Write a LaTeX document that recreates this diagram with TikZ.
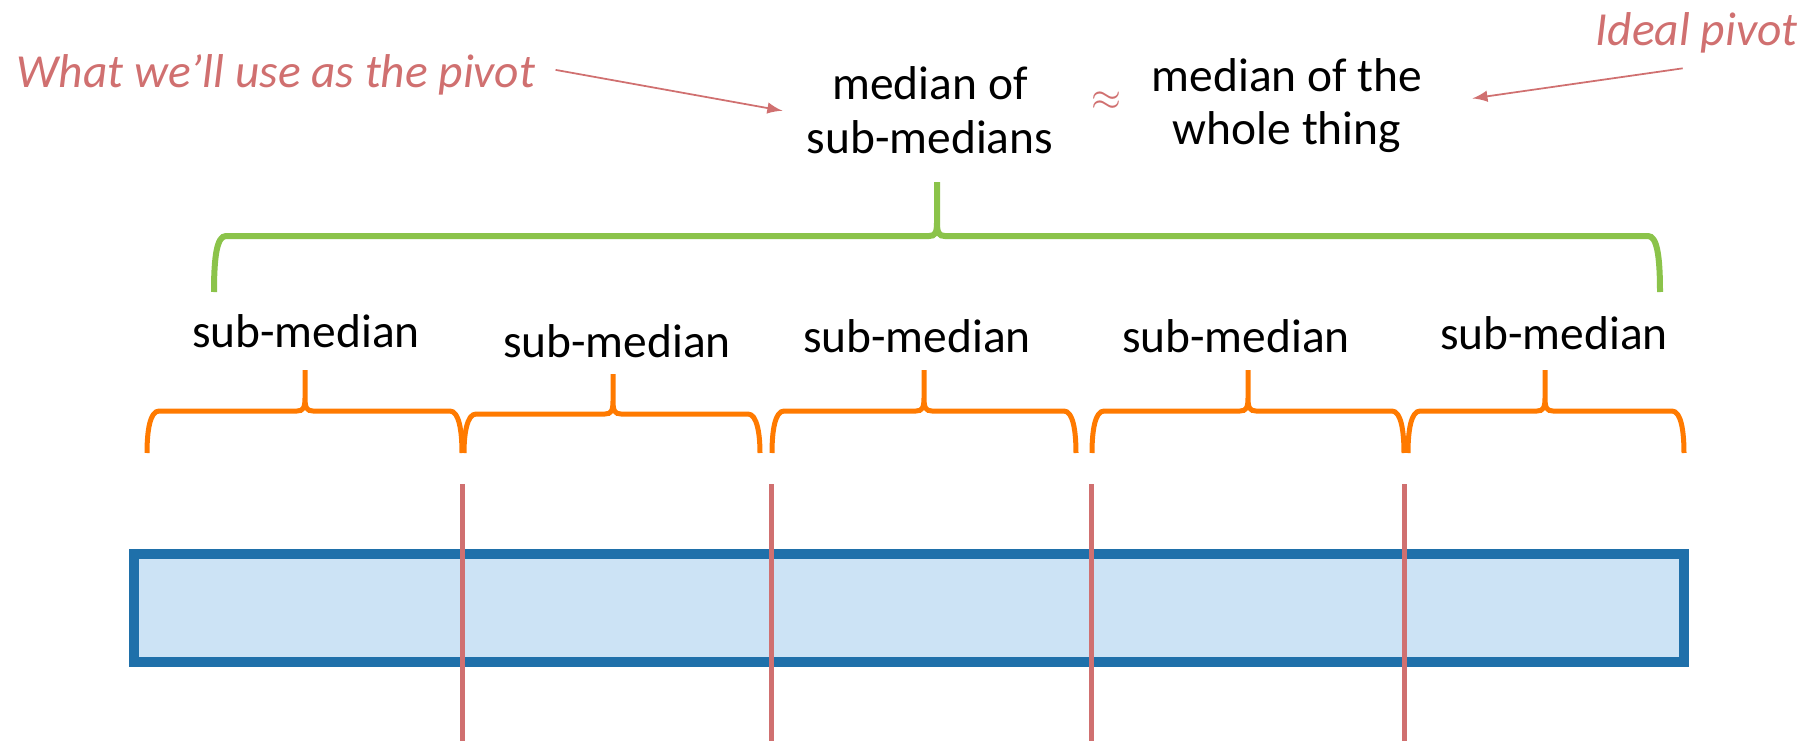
\documentclass[tikz,border=0pt]{standalone}
\usepackage{fontspec}
\setmainfont{Carlito}
\usetikzlibrary{positioning}
\definecolor{pivotred}{RGB}{208,112,112}
\definecolor{braceorange}{RGB}{255,122,0}
\definecolor{bracegreen}{RGB}{139,195,74}
\definecolor{barblue}{RGB}{31,112,170}
\definecolor{barfill}{RGB}{204,227,245}
% curly brace: x0, tip x, x1, bottom y, bar y, tip y, style
\newcommand{\curly}[7]{%
	\draw[#7] (#1,#4) .. controls (#1,{#5-0.2}) and ({#1+0.03},#5) .. ({#1+0.12},#5)
		-- ({#2-0.08},#5) .. controls ({#2-0.02},#5) and (#2,{#5+0.03}) .. (#2,{#5+0.13}) -- (#2,#6)
		(#3,#4) .. controls (#3,{#5-0.2}) and ({#3-0.03},#5) .. ({#3-0.12},#5)
		-- ({#2+0.08},#5) .. controls ({#2+0.02},#5) and (#2,{#5+0.03}) .. (#2,{#5+0.13}) -- (#2,#6);}

\begin{document}
\begin{tikzpicture}[
		txt/.style={inner sep=0pt, font=\fontsize{13.5pt}{15.2pt}\selectfont},
		note/.style={txt, text=pivotred, font=\fontsize{13.5pt}{15.2pt}\selectfont\itshape},
		subbrace/.style={draw=braceorange, line width=0.05cm},
		splitline/.style={draw=pivotred, line width=0.05cm}]
		\useasboundingbox (0,0) rectangle (18.06,7.41);

		%% top row
		\node[note, anchor=base west] at (0.16,6.54)(use){What we’ll use as the pivot};
		\node[note, anchor=base east] at (17.98,6.96)(ideal){Ideal pivot};

		\node[txt, align=center] at (9.30,6.31)(mom){median of\\sub-medians};
		\node[txt, align=center] at (12.87,6.355)(mwt){median of the\\whole thing};
		\node[txt, text=pivotred, font=\fontsize{11pt}{13pt}\selectfont] at (11.06,6.40)(approx){$\approx$};

		\draw[-latex, pivotred, line width=0.5pt, shorten <=0.2cm, shorten >=0.24cm]
			([yshift=0.08cm]use.east)--([yshift=-0.05cm]mom.west);
		\draw[-latex, pivotred, line width=0.5pt, shorten <=0.14cm, shorten >=0.5cm]
			([yshift=-0.13cm]ideal.south)--(mwt.east);

		%% big brace
		\curly{2.14}{9.37}{16.60}{4.49}{5.05}{5.59}{draw=bracegreen, line width=0.06cm}

		%% sub-medians
		\node[txt, anchor=base] at (3.06,3.94)(s1){sub-median};
		\node[txt, anchor=base] at (6.17,3.84)(s2){sub-median};
		\node[txt, anchor=base] at (9.17,3.89)(s3){sub-median};
		\node[txt, anchor=base] at (12.36,3.89)(s4){sub-median};
		\node[txt, anchor=base] at (15.54,3.92)(s5){sub-median};

		%% small braces
		\curly{1.47}{3.05}{4.62}{2.88}{3.30}{3.71}{subbrace}
		\curly{4.64}{6.13}{7.60}{2.88}{3.27}{3.67}{subbrace}
		\curly{7.72}{9.24}{10.76}{2.88}{3.30}{3.71}{subbrace}
		\curly{10.92}{12.48}{14.04}{2.88}{3.30}{3.71}{subbrace}
		\curly{14.08}{15.45}{16.84}{2.88}{3.30}{3.71}{subbrace}

		%% the array
		\draw[draw=barblue, fill=barfill, line width=0.1cm] (1.34,0.79) rectangle (16.84,1.87);

		\draw[splitline] (4.62,2.57)--(4.62,0);
		\draw[splitline] (7.71,2.57)--(7.71,0);
		\draw[splitline] (10.91,2.57)--(10.91,0);
		\draw[splitline] (14.04,2.57)--(14.04,0);
		\end{tikzpicture}
\end{document}
